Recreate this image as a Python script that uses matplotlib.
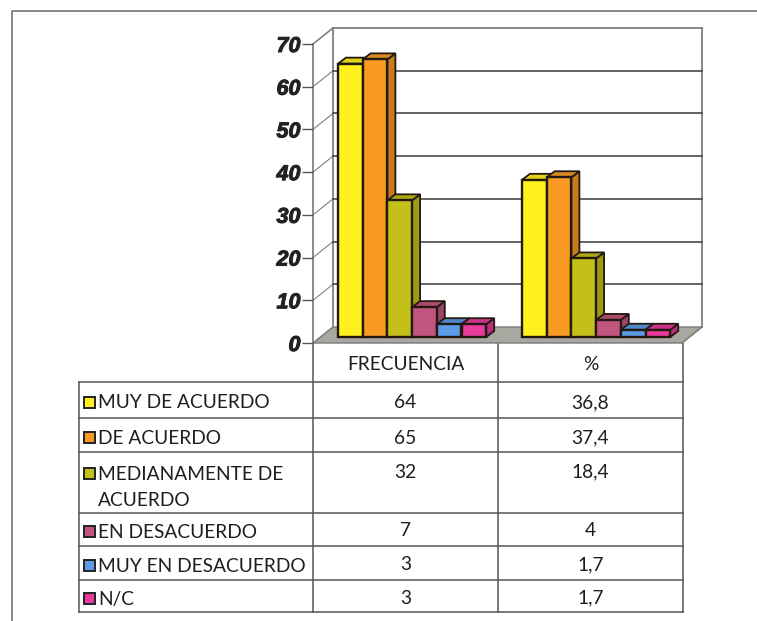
import matplotlib
matplotlib.use("Agg")
import matplotlib.pyplot as plt
from matplotlib.patches import Polygon, Rectangle
import matplotlib.patheffects as pe

W, H = 757, 621
categories = ["FRECUENCIA", "%"]
series = ["MUY DE ACUERDO", "DE ACUERDO", "MEDIANAMENTE DE\nACUERDO",
          "EN DESACUERDO", "MUY EN DESACUERDO", "N/C"]
frecuencia = [64, 65, 32, 7, 3, 3]
porcentaje = [36.8, 37.4, 18.4, 4, 1.7, 1.7]
pct_labels = ["36,8", "37,4", "18,4", "4", "1,7", "1,7"]
colors = ["#FFF01E", "#F99A22", "#C4C01A", "#C2557F", "#5C9BE8", "#E93A9E"]
yticks = [0, 10, 20, 30, 40, 50, 60, 70]

def shade(c, f):
    r, g, b = matplotlib.colors.to_rgb(c)
    return (r * f, g * f, b * f)

fig = plt.figure(figsize=(W / 100, H / 100), dpi=100, facecolor="white")

# overlay axes in pixel units for frame and table
ov = fig.add_axes([0, 0, 1, 1], zorder=0)
ov.set_xlim(0, W); ov.set_ylim(H, 0); ov.axis("off")
frame = "#808080"
ov.plot([12, 12, 757], [621, 11, 11], color=frame, lw=1.3)
ink = "#555555"
row_y = [382, 418, 452, 513, 546, 580, 612]
xl, x1, x2, x3 = 79, 313, 498, 683
for x, y0 in [(x1, 343), (x2, 343), (x3, 343), (xl, 382)]:
    ov.plot([x, x], [y0, 612], color=ink, lw=1.1)
for y in row_y:
    ov.plot([xl, x3], [y, y], color=ink, lw=1.1)
kw = dict(family="Lato", fontsize=13.8, color="#1E1E1E", va="center")
ov.text((x1 + x2) / 2, 365, categories[0], ha="center", **kw)
ov.text((x2 + x3) / 2, 365, categories[1], ha="center", **kw)
text_y = [403, 438, 474, 532, 566, 599]
num_y = [403, 438, 472, 531, 565, 598]
for i, s in enumerate(series):
    yy = text_y[i]
    ov.add_patch(Rectangle((84, yy - 6), 11, 11, facecolor=colors[i], edgecolor="#222222", lw=1.4))
    if "\n" in s:
        a, b = s.split("\n")
        ov.text(98, yy, a, ha="left", **kw)
        ov.text(98, yy + 27, b, ha="left", **kw)
    else:
        ov.text(98, yy, s, ha="left", **kw)
    ov.text((x1 + x2) / 2, num_y[i], str(frecuencia[i]), ha="center", **kw)
    ov.text((x2 + x3) / 2, num_y[i], pct_labels[i], ha="center", **kw)

# chart axes: front plane of the 3D box, y in data units, x in category units
left, right, top, bottom = 313, 682, 44, 343
ax = fig.add_axes([left / W, 1 - bottom / H, (right - left) / W, (bottom - top) / H], zorder=1)
ax.set_xlim(0, 2); ax.set_ylim(0, 70)
ax.patch.set_alpha(0)
for s in ax.spines.values():
    s.set_visible(False)
ax.set_xticks([])
ax.set_yticks(yticks)
ax.tick_params(axis="y", length=8, color=ink, width=1, pad=1)
for t in ax.get_yticklabels():
    t.set_fontfamily("Liberation Sans"); t.set_fontweight("bold"); t.set_fontstyle("italic")
    t.set_fontsize(15.5); t.set_color("#222222")
    t.set_path_effects([pe.withStroke(linewidth=0.7, foreground="#222222")])

ppx = 2 / (right - left)
ppy = 70 / (bottom - top)
dx, dy = 20 * ppx, 16 * ppy
line = "#3A3A3A"
x0 = 0; xe = 2

# floor and walls
ax.add_patch(Polygon([(x0, 0), (xe, 0), (xe + dx, dy), (x0 + dx, dy)], closed=True,
                     facecolor="#A8A8A0", edgecolor="#7A7A7A", lw=1, clip_on=False, zorder=1))
ax.plot([x0, x0], [0, 70], color=frame, lw=1.3, clip_on=False, zorder=1)
ax.plot([x0, x0 + dx], [70, 70 + dy], color=frame, lw=1, clip_on=False, zorder=1)
ax.plot([x0 + dx, x0 + dx], [dy, 70 + dy], color=frame, lw=1.3, clip_on=False, zorder=1)
ax.plot([xe + dx, xe + dx], [dy, 70 + dy], color=frame, lw=1.3, clip_on=False, zorder=1)
ax.plot([xe, xe + dx], [0, dy], color=frame, lw=1, clip_on=False, zorder=1)
for v in yticks:
    ax.plot([x0, x0 + dx], [v, v + dy], color=frame, lw=0.8, clip_on=False, zorder=1)
    if v not in (0, 70):
        ax.plot([x0 + dx, xe + dx], [v + dy, v + dy], color=line, lw=1.1, clip_on=False, zorder=1)
ax.plot([x0 + dx, xe + dx], [70 + dy, 70 + dy], color=frame, lw=1.3, clip_on=False, zorder=1)

# bars
bw = 24.7 * ppx
bdx, bdy = 8 * ppx, 6 * ppy
oy = 1.4
starts = [(338 - left) * ppx, (522 - left) * ppx]
edge = "#221A10"
for g, vals in enumerate([frecuencia, porcentaje]):
    for i, v in enumerate(vals):
        xa = starts[g] + i * bw
        xb = xa + bw
        c = colors[i]
        z = 3 + i * 0.1
        ax.add_patch(Polygon([(xb, oy), (xb + bdx, oy + bdy), (xb + bdx, oy + v + bdy), (xb, oy + v)],
                             closed=True, facecolor=shade(c, 0.8), edgecolor=edge, lw=1.3, clip_on=False, zorder=z))
        ax.add_patch(Polygon([(xa, oy + v), (xb, oy + v), (xb + bdx, oy + v + bdy), (xa + bdx, oy + v + bdy)],
                             closed=True, facecolor=shade(c, 0.88), edgecolor=edge, lw=1.3, clip_on=False, zorder=z))
        ax.add_patch(Rectangle((xa, oy), bw, v, facecolor=c, edgecolor=edge, lw=1.7, clip_on=False, zorder=z))

fig.savefig("out.png", dpi=100, facecolor="white")
